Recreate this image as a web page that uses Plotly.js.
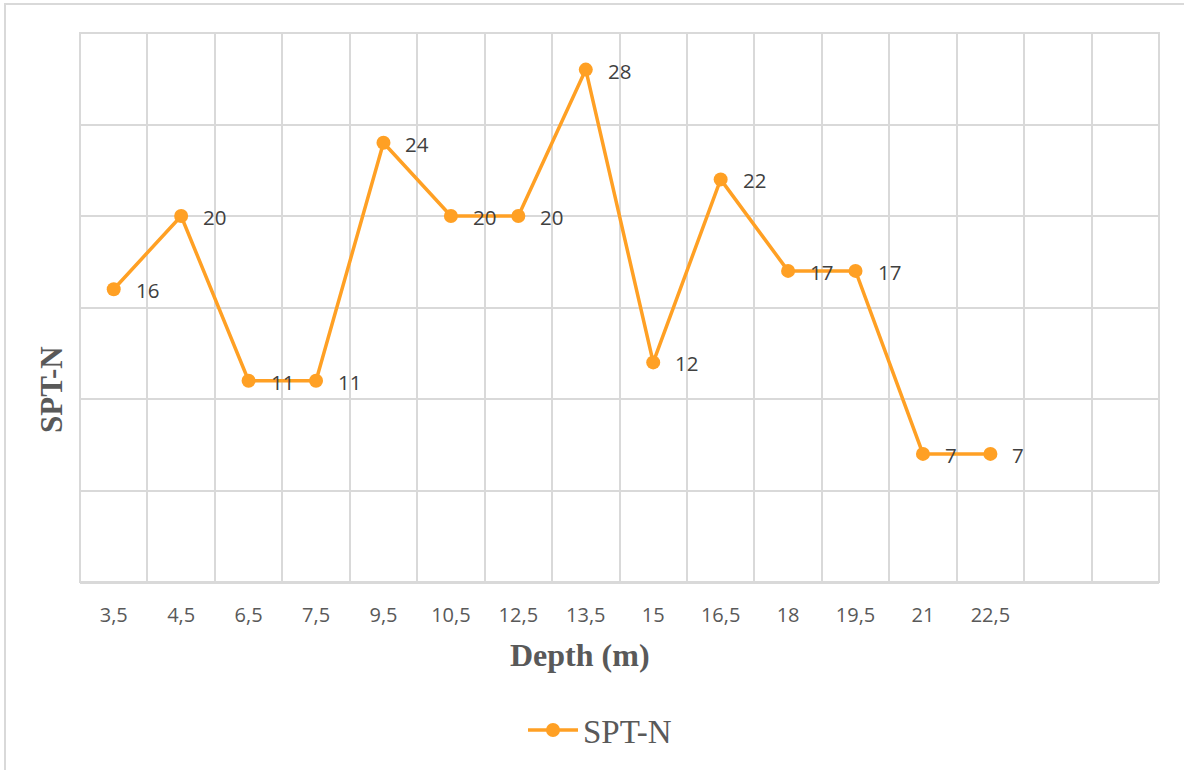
<!DOCTYPE html>
<html>
<head>
<meta charset="utf-8">
<script src="https://cdn.plot.ly/plotly-3.0.1.min.js"></script>
<style>
  html, body { margin: 0; padding: 0; background: #fff; }
  #chart { width: 1184px; height: 770px; }
</style>
</head>
<body>
<div id="chart"></div>
<script>
// Data
const depthLabels = ['3,5', '4,5', '6,5', '7,5', '9,5', '10,5', '12,5', '13,5', '15', '16,5', '18', '19,5', '21', '22,5'];
const sptN = [16, 20, 11, 11, 24, 20, 20, 28, 12, 22, 17, 17, 7, 7];
const categorySlots = 16; // two empty slots at the right end
const xTitle = 'Depth (m)';
const yTitle = 'SPT-N';

const xIdx = depthLabels.map((_, i) => i);

const trace = {
  x: xIdx,
  y: sptN,
  type: 'scatter',
  mode: 'lines+markers',
  name: 'SPT-N',
  line: { color: '#FFA024', width: 3.5 },
  marker: { color: '#FFA024', size: 14 },
  cliponaxis: false
};

const W = 1184, H = 770;
const L = 80, R = 25, T = 33, B = 188;
const pw = W - L - R, ph = H - T - B;

const labelFont = { family: 'Open Sans, Liberation Sans, sans-serif', size: 20.5, color: '#404040' };
const titleFont = { family: 'Liberation Serif, Times New Roman, serif', size: 32, color: '#595959' };

const annotations = sptN.map((v, i) => ({
  x: xIdx[i], y: v, xref: 'x', yref: 'y',
  text: String(v), showarrow: false,
  xanchor: 'left', yanchor: 'middle',
  xshift: 20, yshift: -1,
  font: labelFont
}));
annotations.push({
  xref: 'paper', yref: 'paper',
  x: (580 - L) / pw, y: -(655 - T - ph) / ph,
  xanchor: 'center', yanchor: 'middle',
  text: '<b>' + xTitle + '</b>', showarrow: false, font: titleFont
});
annotations.push({
  xref: 'paper', yref: 'paper',
  x: (51 - L) / pw, y: (T + ph - 390) / ph,
  xanchor: 'center', yanchor: 'middle', textangle: -90,
  text: '<b>' + yTitle + '</b>', showarrow: false,
  font: Object.assign({}, titleFont, { size: 31 })
});

const layout = {
  width: W, height: H,
  margin: { l: L, r: R, t: T, b: B },
  paper_bgcolor: '#ffffff',
  plot_bgcolor: '#ffffff',
  showlegend: true,
  legend: {
    orientation: 'h',
    x: (600 - L) / pw, xanchor: 'center',
    y: -(730 - T - ph) / ph, yanchor: 'middle',
    itemwidth: 50,
    font: { family: 'Liberation Serif, Times New Roman, serif', size: 33, color: '#595959' }
  },
  annotations: annotations,
  xaxis: {
    range: [-0.5, categorySlots - 0.5],
    tickmode: 'array',
    tickvals: xIdx,
    ticktext: depthLabels,
    showgrid: false,
    zeroline: false,
    showline: true,
    linecolor: '#d9d9d9',
    linewidth: 2,
    ticks: '',
    ticklabelstandoff: 14,
    tickfont: { family: 'Open Sans, Liberation Sans, sans-serif', size: 20, color: '#595959' },
    minor: { tickmode: 'linear', tick0: -0.5, dtick: 1, showgrid: true, gridcolor: '#d9d9d9', gridwidth: 2, ticks: '' },
    fixedrange: true
  },
  yaxis: {
    range: [0, 30],
    dtick: 5,
    tick0: 0,
    showgrid: true,
    gridcolor: '#d9d9d9',
    gridwidth: 2,
    zeroline: false,
    showline: false,
    showticklabels: false,
    ticks: '',
    fixedrange: true
  },
  shapes: [
    // outer chart frame (top & left visible)
    { type: 'rect', xref: 'paper', yref: 'paper',
      x0: (5 - L) / pw, x1: (1200 - L) / pw,
      y0: -(790 - T - ph) / ph, y1: 1 + (T - 4) / ph,
      line: { color: '#d9d9d9', width: 2 }, fillcolor: 'rgba(0,0,0,0)', layer: 'below' },
    // plot area border
    { type: 'rect', xref: 'paper', yref: 'paper', x0: 0, x1: 1, y0: 0, y1: 1,
      line: { color: '#d9d9d9', width: 2 }, fillcolor: 'rgba(0,0,0,0)', layer: 'below' }
  ]
};

Plotly.newPlot('chart', [trace], layout, { displayModeBar: false, staticPlot: true });
</script>
</body>
</html>
